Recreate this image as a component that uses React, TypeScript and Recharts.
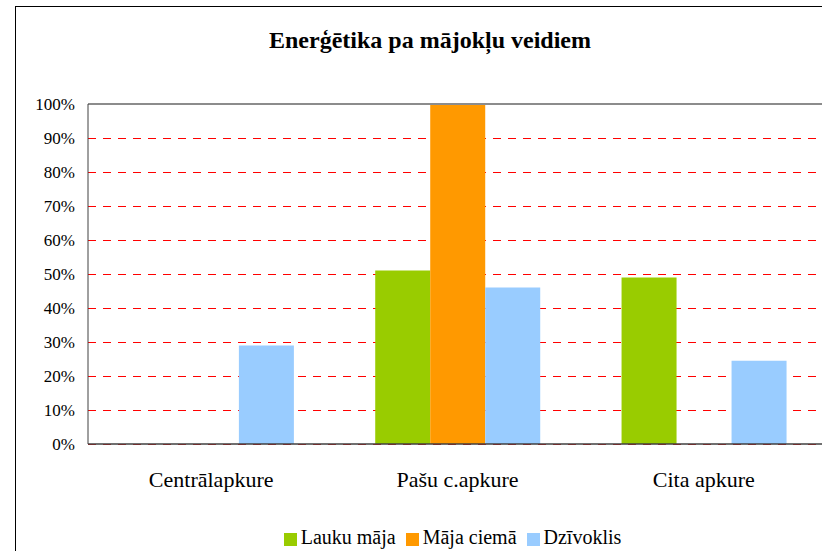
import React from "react";
import {
  Bar,
  BarChart,
  CartesianGrid,
  Legend,
  ReferenceLine,
  XAxis,
  YAxis,
} from "recharts";

const categories = ["Centrālapkure", "Pašu c.apkure", "Cita apkure"];
const laukuMaja = [0, 0.51, 0.49];
const majaCiema = [0, 1.0, 0];
const dzivoklis = [0.29, 0.46, 0.245];
const yTicks = [0, 0.1, 0.2, 0.3, 0.4, 0.5, 0.6, 0.7, 0.8, 0.9, 1];

const data = categories.map((name, i) => ({
  name,
  lauku: laukuMaja[i],
  maja: majaCiema[i],
  dziv: dzivoklis[i],
}));

const seriesOrder = ["lauku", "maja", "dziv"];
const seriesNames: Record<string, string> = {
  lauku: "Lauku māja",
  maja: "Māja ciemā",
  dziv: "Dzīvoklis",
};

const serif = "'Liberation Serif', 'Times New Roman', Tinos, 'DejaVu Serif', serif";

export default function App() {
  return (
    <div
      style={{
        position: "absolute",
        left: 0,
        top: 0,
        width: 822,
        height: 551,
        overflow: "hidden",
        background: "#fff",
        fontFamily: serif,
      }}
    >
      {/* chart frame, right and bottom edges fall outside the picture */}
      <div
        style={{
          position: "absolute",
          left: 15,
          top: 6,
          width: 900,
          height: 700,
          border: "1px solid #000",
        }}
      />
      <div
        style={{
          position: "absolute",
          top: 27,
          left: 230,
          width: 400,
          textAlign: "center",
          fontWeight: "bold",
          fontSize: 24,
          color: "#000",
          fontFamily: serif,
        }}
      >
        Enerģētika pa mājokļu veidiem
      </div>
      <div style={{ position: "absolute", left: 0, top: 0 }}>
        <BarChart
          width={830}
          height={551}
          data={data}
          margin={{ top: 104, right: 3, bottom: 2, left: 0 }}
          barCategoryGap="16.6%"
          barGap={0}
          style={{ fontFamily: serif }}
        >
          <CartesianGrid
            vertical={false}
            stroke="#ff0000"
            strokeDasharray="8 7"
            shapeRendering="crispEdges"
          />
          <XAxis
            dataKey="name"
            height={82}
            tickLine={false}
            tickSize={0}
            tickMargin={27}
            axisLine={{ stroke: "#404040", strokeWidth: 1.5 }}
            tick={{ fill: "#000", fontSize: 22, fontFamily: serif }}
          />
          <YAxis
            width={88}
            domain={[0, 1]}
            ticks={yTicks}
            interval={0}
            tickLine={false}
            tickSize={0}
            tickMargin={13}
            axisLine={{ stroke: "#404040" }}
            tick={{ fill: "#000", fontSize: 17, fontFamily: serif }}
            tickFormatter={(v: number) => `${Math.round(v * 100)}%`}
          />
          <ReferenceLine
            y={1}
            stroke="#8c8c8c"
            strokeWidth={2}
            shapeRendering="crispEdges"
          />
          <Legend
            verticalAlign="bottom"
            iconType="square"
            iconSize={13}
            itemSorter={(item: { dataKey?: unknown }) =>
              seriesOrder.indexOf(String(item.dataKey))
            }
            wrapperStyle={{
              fontFamily: serif,
              fontSize: 20,
              left: 88,
              width: 739,
            }}
            formatter={(value: string) => (
              <span style={{ color: "#000" }}>{seriesNames[value] ?? value}</span>
            )}
          />
          <Bar dataKey="lauku" fill="#99cc00" isAnimationActive={false} />
          <Bar dataKey="maja" fill="#ff9900" isAnimationActive={false} />
          <Bar dataKey="dziv" fill="#99ccff" isAnimationActive={false} />
        </BarChart>
      </div>
    </div>
  );
}
